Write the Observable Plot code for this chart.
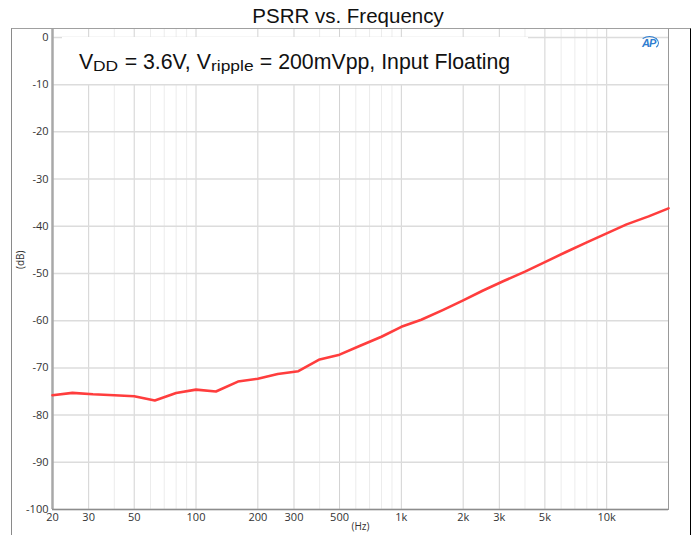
<!DOCTYPE html>
<html>
<head>
<meta charset="utf-8">
<script src="https://cdn.jsdelivr.net/npm/d3@7"></script>
<script src="https://cdn.jsdelivr.net/npm/@observablehq/plot@0.6"></script>
<style>
  html, body { margin: 0; padding: 0; background: #fff; }
  body { width: 696px; height: 535px; position: relative; overflow: hidden; }
  #title { height: 28px; line-height: 32px; text-align: center; font-family: "Liberation Sans", Arial, sans-serif; font-size: 20.5px; color: #111; white-space: nowrap; }
  #outer { position: absolute; left: 11px; top: 28px; width: 678px; height: 520px; border-left: 1px solid #8a8a8a; border-top: 1px solid #a0a0a0; border-right: 1.5px solid #000; pointer-events: none; }
  #note { position: absolute; left: 62px; top: 37px; width: 466px; height: 47px; background: #fff; }
  #notetext { position: absolute; left: 79px; top: 50px; font-family: "Liberation Sans", Arial, sans-serif; font-size: 21.3px; line-height: 24px; color: #111; white-space: nowrap; }
  .sub { display: inline-block; vertical-align: -2px; font-size: 14.5px; line-height: 14px; }
  .sub > span { display: inline-block; transform: scaleX(1.2); transform-origin: left center; }
  #logo { position: absolute; left: 640px; top: 36px; font-family: "Liberation Sans", Arial, sans-serif; font-style: italic; font-weight: bold; font-size: 11px; color: #2f7dd0; letter-spacing: -1px; border: 1.5px solid #2f7dd0; border-left-color: transparent; border-bottom-color: transparent; border-radius: 50%; padding: 0 3px 0 1px; line-height: 12px; }
</style>
</head>
<body>
<div id="title">PSRR vs. Frequency</div>
<div id="chart"></div>
<div id="outer"></div>
<div id="note"></div>
<div id="notetext">V<span class="sub" style="width:25.5px"><span>DD</span></span> = 3.6V, V<span class="sub" style="width:43px"><span>ripple</span></span> = 200mVpp, Input Floating</div>
<div id="logo">AP</div>
<script>
// Data (1/3-octave frequencies, Hz; PSRR, dB)
const freqs = [20, 25, 31.5, 40, 50, 63, 80, 100, 125, 160, 200, 250, 315, 400, 500, 630, 800,
  1000, 1250, 1600, 2000, 2500, 3150, 4000, 5000, 6300, 8000, 10000, 12500, 16000, 20000];
const psrr = [-75.8, -75.3, -75.6, -75.8, -76.0, -76.9, -75.3, -74.6, -75.0, -72.9, -72.3, -71.3, -70.7,
  -68.2, -67.2, -65.3, -63.4, -61.3, -59.8, -57.7, -55.7, -53.6, -51.6, -49.6, -47.6, -45.5, -43.4,
  -41.5, -39.6, -37.9, -36.2];

const xTicks = [20, 30, 50, 100, 200, 300, 500, 1000, 2000, 3000, 5000, 10000];
const xTickLabels = ["20", "30", "50", "100", "200", "300", "500", "1k", "2k", "3k", "5k", "10k"];
const xMinorGrid = [40, 60, 70, 80, 90, 400, 600, 700, 800, 900, 4000, 6000, 7000, 8000, 9000];
const yTicks = [-100, -90, -80, -70, -60, -50, -40, -30, -20, -10, 0];
const xDomain = [20, 20000];
const yDomain = [-100, 1.9];
const xLabel = "(Hz)";
const yLabel = "(dB)";

const rows = freqs.map((f, i) => ({f, db: psrr[i]}));
const xTickRows = xTicks.map((v, i) => ({v, label: xTickLabels[i]}));

const chart = Plot.plot({
  width: 696,
  height: 507,
  marginTop: 0,
  marginLeft: 52,
  marginRight: 28,
  marginBottom: 26,
  style: {fontFamily: "'Open Sans', 'Noto Sans', sans-serif", fontSize: "11px", color: "#333", background: "transparent"},
  x: {type: "log", domain: xDomain, axis: null},
  y: {domain: yDomain, axis: null},
  marks: [
    Plot.ruleX(xMinorGrid, {stroke: "#ececec", strokeWidth: 1}),
    Plot.ruleX(xTicks, {stroke: "#d2d2d2", strokeWidth: 1}),
    Plot.ruleY(yTicks, {stroke: "#dcdcdc", strokeWidth: 1.5}),
    Plot.frame({stroke: "#999", strokeWidth: 1}),
    Plot.ruleX([xDomain[0]], {stroke: "#a8a8a8", strokeWidth: 2.5}),
    Plot.ruleY([yDomain[0]], {stroke: "#8c8c8c", strokeWidth: 1.5}),
    Plot.line(rows, {x: "f", y: "db", stroke: "#ff3d3d", strokeWidth: 2.6, strokeLinejoin: "round"}),
    Plot.text(xTickRows, {x: "v", frameAnchor: "bottom", text: "label", lineAnchor: "top", dy: 4, fill: "#333", fontSize: 11}),
    Plot.text(yTicks, {y: d => d, frameAnchor: "left", text: d => String(d), textAnchor: "end", dx: -4, fill: "#333", fontSize: 11}),
    Plot.text([yLabel], {frameAnchor: "left", text: d => d, rotate: -90, dx: -32, fontSize: 10, fill: "#333"}),
    Plot.text([xLabel], {frameAnchor: "bottom", text: d => d, dy: 20, fontSize: 10, fill: "#333"})
  ]
});
document.getElementById("chart").appendChild(chart);
</script>
</body>
</html>
